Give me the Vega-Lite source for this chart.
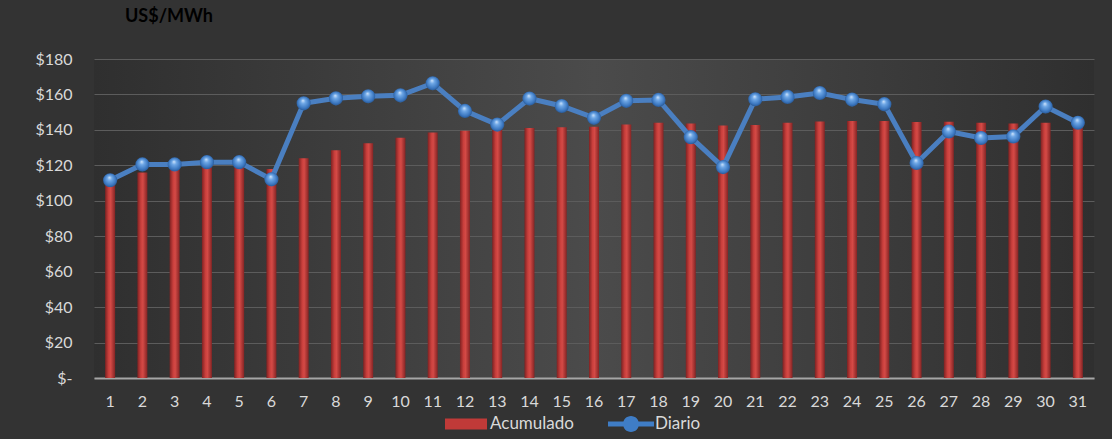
{
  "$schema": "https://vega.github.io/schema/vega-lite/v6.json",
  "width": 1000,
  "height": 319,
  "autosize": "none",
  "padding": {"left": 94, "top": 59, "right": 18, "bottom": 61},
  "background": "#333333",
  "title": {
    "text": "US$/MWh",
    "anchor": "start",
    "frame": "group",
    "dx": 31,
    "offset": 25,
    "font": "Lato",
    "fontSize": 18,
    "fontWeight": "bold",
    "color": "#000000"
  },
  "config": {
    "view": {
      "stroke": null,
      "fill": {
        "gradient": "linear",
        "x1": 0, "y1": 0.5, "x2": 1, "y2": 0.5,
        "stops": [
          {"offset": 0, "color": "#2f2f2f"},
          {"offset": 0.5, "color": "#4b4b4b"},
          {"offset": 1, "color": "#2f2f2f"}
        ]
      }
    },
    "axis": {
      "labelFont": "Lato",
      "labelFontSize": 16,
      "labelColor": "#d9d9d9",
      "ticks": false,
      "title": null
    },
    "axisY": {
      "values": [0, 20, 40, 60, 80, 100, 120, 140, 160, 180],
      "labelExpr": "datum.value == 0 ? '$-' : '$' + datum.value",
      "labelPadding": 22,
      "labelOverlap": false,
      "domain": false,
      "gridColor": "#5c5c5c",
      "gridWidth": 1
    }
  },
  "data": {
    "values": [
      {"day": 1, "acumulado": 111.6, "diario": 111.6},
      {"day": 2, "acumulado": 116.0, "diario": 120.5},
      {"day": 3, "acumulado": 117.5, "diario": 120.5},
      {"day": 4, "acumulado": 119.0, "diario": 121.8},
      {"day": 5, "acumulado": 119.5, "diario": 121.8},
      {"day": 6, "acumulado": 118.0, "diario": 112.1},
      {"day": 7, "acumulado": 124.0, "diario": 155.0},
      {"day": 8, "acumulado": 128.5, "diario": 157.8},
      {"day": 9, "acumulado": 132.5, "diario": 159.0},
      {"day": 10, "acumulado": 135.5, "diario": 159.5},
      {"day": 11, "acumulado": 138.5, "diario": 166.3},
      {"day": 12, "acumulado": 139.5, "diario": 150.7},
      {"day": 13, "acumulado": 140.0, "diario": 143.0},
      {"day": 14, "acumulado": 141.0, "diario": 157.7},
      {"day": 15, "acumulado": 141.5, "diario": 153.5},
      {"day": 16, "acumulado": 141.8, "diario": 146.8},
      {"day": 17, "acumulado": 143.0, "diario": 156.4},
      {"day": 18, "acumulado": 144.0, "diario": 156.9},
      {"day": 19, "acumulado": 143.6, "diario": 135.9},
      {"day": 20, "acumulado": 142.5, "diario": 119.0},
      {"day": 21, "acumulado": 142.8, "diario": 157.3},
      {"day": 22, "acumulado": 144.0, "diario": 158.6},
      {"day": 23, "acumulado": 144.7, "diario": 160.8},
      {"day": 24, "acumulado": 145.0, "diario": 157.1},
      {"day": 25, "acumulado": 145.0, "diario": 154.5},
      {"day": 26, "acumulado": 144.5, "diario": 121.3},
      {"day": 27, "acumulado": 144.6, "diario": 139.1},
      {"day": 28, "acumulado": 144.0, "diario": 135.4},
      {"day": 29, "acumulado": 143.6, "diario": 136.3},
      {"day": 30, "acumulado": 144.0, "diario": 153.2},
      {"day": 31, "acumulado": 144.0, "diario": 144.0}
    ]
  },
  "encoding": {
    "x": {
      "field": "day",
      "type": "ordinal",
      "scale": {"type": "band", "paddingInner": 0, "paddingOuter": 0},
      "axis": {
        "labelAngle": 0,
        "labelPadding": 15,
        "domainColor": "#a6a6a6",
        "domainWidth": 2,
        "grid": false
      }
    }
  },
  "layer": [
    {
      "mark": {
        "type": "bar",
        "size": 10,
        "fill": {
          "gradient": "linear",
          "x1": 0, "y1": 0.5, "x2": 1, "y2": 0.5,
          "stops": [
            {"offset": 0, "color": "#7e2222"},
            {"offset": 0.35, "color": "#c93f3c"},
            {"offset": 0.55, "color": "#d44a46"},
            {"offset": 1, "color": "#842424"}
          ]
        }
      },
      "encoding": {
        "y": {
          "field": "acumulado",
          "type": "quantitative",
          "scale": {"domain": [0, 180], "nice": false}
        }
      }
    },
    {
      "mark": {"type": "line", "strokeWidth": 5},
      "encoding": {
        "y": {"field": "diario", "type": "quantitative"},
        "color": {
          "datum": "Diario",
          "type": "nominal",
          "scale": {"domain": ["Acumulado", "Diario"], "range": ["#c03a38", "#4a7fc1"]},
          "legend": {
            "title": null,
            "orient": "none",
            "direction": "horizontal",
            "legendX": 362,
            "legendY": 355,
            "labelFont": "Lato",
            "labelFontSize": 17,
            "labelColor": "#d9d9d9",
            "symbolSize": 400,
            "labelOffset": 14,
            "columnPadding": 34,
            "encode": {
              "symbols": {
                "update": {
                  "shape": {"signal": "datum.value === 'Acumulado' ? 'M-2.1,-0.55H2.1V0.55H-2.1Z' : 'M-2.3,-0.25H2.3V0.25H-2.3Z M0.8,0 A0.8,0.8 0 1,1 -0.8,0 A0.8,0.8 0 1,1 0.8,0Z'"},
                  "fill": {"signal": "datum.value === 'Acumulado' ? '#c03a38' : '#3f7dc6'"},
                  "strokeWidth": {"value": 0},
                  "opacity": {"value": 1},
                  "fillOpacity": {"value": 1}
                }
              }
            }
          }
        }
      }
    },
    {
      "mark": {
        "type": "point",
        "filled": true,
        "size": 200,
        "opacity": 1,
        "fill": {
          "gradient": "radial",
          "x1": 0.45, "y1": 0.3, "r1": 0,
          "x2": 0.5, "y2": 0.5, "r2": 0.55,
          "stops": [
            {"offset": 0, "color": "#d2e6fc"},
            {"offset": 0.3, "color": "#6ea7e6"},
            {"offset": 0.75, "color": "#3a76bf"},
            {"offset": 1, "color": "#244f86"}
          ]
        }
      },
      "encoding": {
        "y": {"field": "diario", "type": "quantitative"}
      }
    }
  ]
}
